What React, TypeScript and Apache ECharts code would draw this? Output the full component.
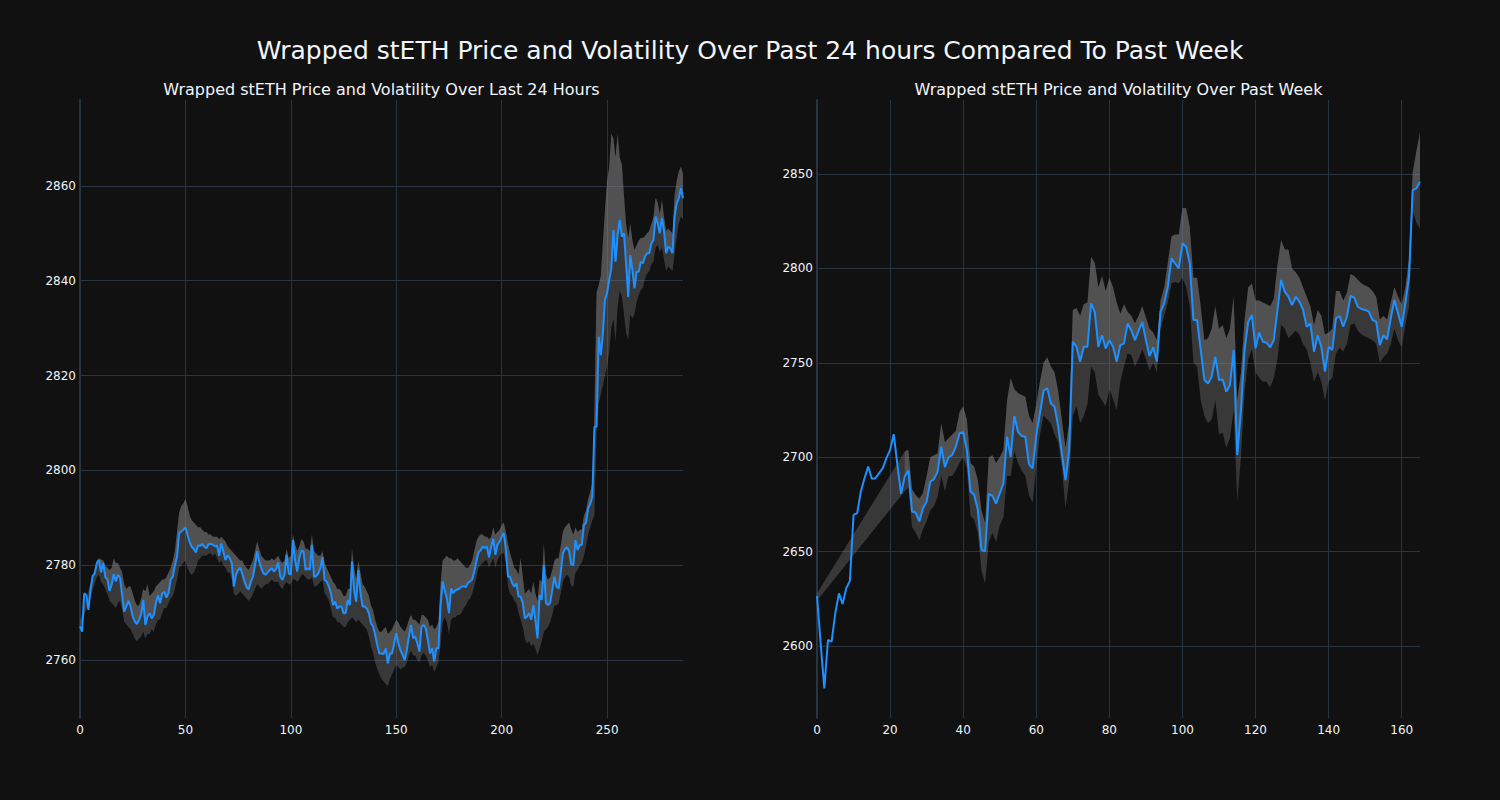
import React, { useEffect, useRef } from "react";
import * as echarts from "echarts";

// ---------- Data: last 24 hours (5-minute steps) ----------
const dayPrice: number[] = [
  2767.1, 2766.0, 2774.1, 2773.7, 2770.6, 2774.8, 2777.7, 2778.3, 2780.5, 2781.0,
  2778.5, 2780.5, 2777.5, 2777.0, 2774.6, 2775.9, 2778.1, 2776.6, 2778.0, 2777.3,
  2773.7, 2770.2, 2771.4, 2772.5, 2771.3, 2769.2, 2768.1, 2767.6, 2768.5, 2769.7,
  2772.7, 2767.4, 2769.2, 2769.9, 2768.8, 2769.5, 2772.0, 2773.7, 2772.0, 2774.1,
  2774.4, 2773.2, 2774.2, 2777.0, 2777.6, 2779.9, 2781.8, 2786.8, 2787.1, 2787.5,
  2788.0, 2786.4, 2784.9, 2783.9, 2783.4, 2782.7, 2784.2, 2784.1, 2784.5, 2783.9,
  2783.6, 2784.5, 2784.5, 2784.4, 2784.0, 2784.2, 2782.0, 2784.6, 2782.9, 2781.1,
  2782.1, 2781.5, 2780.4, 2775.5, 2778.0, 2779.0, 2779.5, 2778.2, 2776.6, 2775.4,
  2774.9, 2776.5, 2777.5, 2780.0, 2782.9, 2780.8, 2779.4, 2778.3, 2778.0, 2778.5,
  2779.0, 2779.4, 2778.7, 2779.2, 2780.6, 2777.6, 2776.9, 2778.0, 2782.2, 2778.3,
  2778.0, 2785.3, 2781.1, 2778.7, 2781.5, 2783.1, 2782.9, 2779.0, 2779.4, 2779.0,
  2784.3, 2777.6, 2777.7, 2778.3, 2779.4, 2781.7, 2776.9, 2776.6, 2775.5, 2774.1,
  2771.6, 2772.3, 2770.9, 2771.3, 2771.3, 2769.9, 2769.9, 2772.7, 2771.6, 2780.8,
  2774.8, 2772.3, 2779.0, 2774.4, 2771.3, 2771.3, 2770.9, 2769.9, 2767.8, 2767.1,
  2765.3, 2763.2, 2761.4, 2761.4, 2761.3, 2762.5, 2759.3, 2761.4, 2761.4, 2763.5,
  2765.7, 2763.5, 2762.1, 2761.1, 2760.0, 2762.1, 2765.0, 2767.4, 2764.6, 2765.0,
  2763.5, 2761.8, 2767.1, 2767.4, 2766.7, 2764.2, 2761.4, 2762.5, 2759.7, 2762.5,
  2762.5, 2771.3, 2776.6, 2774.8, 2773.0, 2769.9, 2775.1, 2774.1, 2774.7, 2774.9,
  2775.1, 2775.5, 2775.6, 2775.4, 2776.3, 2776.6, 2777.0, 2778.7, 2780.8, 2782.7,
  2783.2, 2783.9, 2783.7, 2783.9, 2781.7, 2783.9, 2785.6, 2782.2, 2784.3, 2785.0,
  2786.0, 2786.8, 2783.2, 2777.6, 2777.6, 2776.2, 2775.5, 2776.2, 2773.4, 2773.4,
  2772.0, 2768.8, 2769.2, 2769.9, 2768.5, 2771.6, 2768.5, 2764.6, 2773.7, 2772.7,
  2780.1, 2772.0, 2771.6, 2772.1, 2774.8, 2777.6, 2775.5, 2775.1, 2778.3, 2782.5,
  2783.4, 2783.8, 2782.9, 2780.1, 2780.1, 2785.3, 2783.2, 2784.3, 2784.3, 2788.5,
  2789.0, 2792.0, 2793.0, 2794.5, 2809.2, 2809.2, 2828.2, 2824.3, 2828.9, 2836.0,
  2837.4, 2840.2, 2842.6, 2850.7, 2844.0, 2849.7, 2852.8, 2849.3, 2850.0, 2843.7,
  2836.6, 2845.4, 2842.3, 2838.4, 2841.9, 2841.9, 2844.0, 2843.7, 2845.1, 2845.8,
  2845.8, 2847.9, 2848.6, 2853.5, 2852.1, 2850.0, 2853.2, 2850.4, 2845.8, 2847.2,
  2846.8, 2845.8, 2853.5, 2856.3, 2857.4, 2859.5, 2857.4,
];

const dayUpper: (number | null)[] = [
  2768.2, null, null, null, null, null, null, null, 2781.0, 2781.5,
  2781.2, 2781.0, 2780.0, 2779.5, 2779.0, 2779.5, 2781.5, 2780.5, 2780.5, 2779.5,
  2778.5, 2776.0, 2775.0, 2775.5, 2775.5, 2774.0, 2772.5, 2771.5, 2771.5, 2773.0,
  2775.0, 2774.5, 2776.0, 2773.5, 2774.0, 2774.5, 2775.5, 2776.0, 2776.5, 2777.0,
  2777.0, 2777.5, 2778.5, 2779.5, 2781.0, 2783.0, 2787.0, 2791.0, 2792.5, 2793.0,
  2794.0, 2792.5, 2790.5, 2789.5, 2789.0, 2788.5, 2788.0, 2788.0, 2787.5, 2787.0,
  2787.0, 2786.5, 2786.5, 2786.0, 2786.0, 2786.0, 2785.5, 2786.0, 2785.5, 2785.0,
  2784.0, 2783.5, 2783.0, 2782.5, 2782.0, 2781.5, 2781.0, 2781.0, 2780.0, 2779.5,
  2779.0, 2780.0, 2781.0, 2783.0, 2785.0, 2783.5, 2782.0, 2781.5, 2781.0, 2781.0,
  2781.0, 2781.5, 2781.0, 2781.5, 2782.0, 2781.0, 2780.5, 2781.0, 2783.5, 2781.5,
  2782.0, 2786.5, 2784.5, 2783.0, 2784.0, 2785.5, 2785.0, 2783.5, 2783.5, 2783.0,
  2786.5, 2783.0, 2782.5, 2782.0, 2782.0, 2783.0, 2780.5, 2779.5, 2778.5, 2777.5,
  2776.5, 2776.0, 2775.0, 2775.0, 2774.5, 2773.5, 2773.5, 2775.0, 2775.0, 2783.5,
  2779.5, 2777.0, 2781.0, 2778.5, 2776.0, 2775.5, 2774.5, 2773.5, 2771.5, 2770.5,
  2768.5, 2767.0, 2766.0, 2766.0, 2766.5, 2767.0, 2765.5, 2766.0, 2766.5, 2767.5,
  2768.5, 2768.0, 2767.0, 2766.5, 2766.0, 2767.0, 2768.5, 2769.5, 2768.5, 2768.5,
  2768.0, 2767.5, 2769.5, 2769.5, 2769.0, 2768.5, 2767.0, 2767.5, 2766.5, 2767.0,
  2768.0, 2776.0, 2781.0, 2781.5, 2782.0, 2781.5, 2781.5, 2781.0, 2781.0, 2781.5,
  2781.0, 2780.5, 2780.0, 2779.5, 2779.5, 2780.0, 2781.0, 2783.0, 2785.0, 2786.0,
  2786.5, 2786.5, 2786.0, 2786.0, 2785.5, 2786.0, 2788.0, 2786.5, 2787.0, 2787.5,
  2788.5, 2789.0, 2787.0, 2784.5, 2782.5, 2781.0, 2779.5, 2779.0, 2778.0, 2781.5,
  2777.5, 2774.0, 2774.5, 2775.0, 2774.0, 2776.5, 2774.0, 2772.5, 2777.0, 2776.5,
  2784.5, 2778.0, 2777.0, 2777.5, 2779.0, 2781.0, 2781.5, 2781.5, 2784.0, 2787.0,
  2788.0, 2788.5, 2789.0, 2787.5, 2786.5, 2788.0, 2787.0, 2787.5, 2787.5, 2790.5,
  2791.5, 2794.0, 2795.5, 2797.5, 2813.0, 2837.5, 2839.0, 2841.0, 2848.0, 2855.0,
  2861.0, 2864.0, 2871.0, 2870.0, 2866.0, 2871.0, 2866.0, 2864.5, 2858.0, 2852.0,
  2849.0, 2852.0, 2848.5, 2846.5, 2847.5, 2848.5, 2849.0, 2849.0, 2849.5, 2850.0,
  2850.5, 2852.0, 2853.5, 2857.5, 2856.5, 2854.0, 2857.0, 2853.5, 2850.5, 2851.0,
  2850.5, 2850.0, 2858.0, 2861.0, 2863.0, 2864.0, 2862.5,
];

const dayLower: (number | null)[] = [
  2766.8, null, null, null, null, null, null, null, 2777.5, 2778.0,
  2776.5, 2776.0, 2775.0, 2774.0, 2772.5, 2772.0, 2771.5, 2771.0, 2772.0, 2772.5,
  2770.5, 2768.0, 2767.5, 2767.0, 2766.5, 2765.5, 2764.5, 2764.0, 2764.5, 2765.0,
  2766.0, 2764.5, 2765.5, 2765.5, 2766.5, 2766.0, 2767.5, 2768.5, 2768.5, 2770.0,
  2771.0, 2771.0, 2772.0, 2773.0, 2773.5, 2775.0, 2777.0, 2779.5, 2780.0, 2780.5,
  2781.0, 2779.5, 2778.5, 2778.0, 2778.5, 2779.5, 2781.0, 2781.5, 2782.0, 2782.0,
  2782.0, 2782.5, 2782.5, 2782.0, 2782.5, 2781.5, 2780.5, 2781.0, 2780.0, 2779.5,
  2778.5, 2778.5, 2777.0, 2774.0, 2773.5, 2774.0, 2774.5, 2774.0, 2773.5, 2773.0,
  2772.5, 2773.0, 2774.0, 2775.0, 2776.0, 2775.5, 2775.0, 2775.5, 2776.0, 2776.0,
  2776.5, 2777.0, 2776.5, 2776.5, 2776.5, 2775.5, 2775.0, 2776.0, 2776.5, 2776.0,
  2776.0, 2777.0, 2777.0, 2776.5, 2777.0, 2778.0, 2778.0, 2777.5, 2777.0, 2777.0,
  2777.5, 2775.5, 2775.5, 2776.0, 2776.5, 2777.0, 2774.0, 2773.5, 2772.5, 2771.0,
  2769.0, 2769.0, 2768.0, 2768.0, 2767.5, 2767.0, 2767.0, 2768.0, 2768.5, 2769.0,
  2768.5, 2768.0, 2768.5, 2768.0, 2767.5, 2767.0, 2766.5, 2765.0, 2763.0, 2761.5,
  2759.5, 2758.0, 2757.0, 2756.0, 2755.5, 2755.0, 2754.5, 2756.0, 2757.0, 2758.0,
  2759.0, 2758.5, 2758.0, 2758.5, 2758.5, 2759.5, 2761.0, 2762.0, 2761.0, 2761.0,
  2760.0, 2759.5, 2761.0, 2761.5, 2761.0, 2760.0, 2758.5, 2759.0, 2757.5, 2758.5,
  2759.5, 2763.0, 2768.0, 2769.0, 2768.0, 2765.5, 2768.5, 2769.0, 2769.0, 2769.5,
  2769.5, 2770.0, 2771.0, 2771.5, 2772.5, 2773.0, 2774.0, 2775.5, 2777.5, 2779.5,
  2780.0, 2780.5, 2781.0, 2781.0, 2779.5, 2780.5, 2781.5, 2779.5, 2781.0, 2782.0,
  2782.5, 2782.5, 2780.5, 2775.5, 2774.0, 2773.5, 2772.5, 2772.0, 2770.0, 2768.5,
  2767.0, 2764.5, 2763.5, 2764.0, 2763.0, 2763.5, 2762.5, 2761.0, 2762.5, 2764.0,
  2766.0, 2766.5, 2767.0, 2768.0, 2769.5, 2771.5, 2771.5, 2772.0, 2774.0, 2776.5,
  2777.5, 2778.0, 2777.5, 2775.5, 2775.5, 2778.5, 2779.0, 2780.0, 2780.5, 2782.0,
  2784.0, 2786.5, 2788.0, 2789.5, 2790.5, 2808.0, 2814.0, 2816.0, 2818.0, 2820.0,
  2822.0, 2825.0, 2830.0, 2832.0, 2827.0, 2834.5, 2838.0, 2836.5, 2833.0, 2829.0,
  2827.5, 2833.0, 2832.0, 2833.0, 2835.5, 2837.0, 2838.0, 2838.5, 2840.5, 2841.5,
  2842.0, 2843.5, 2844.0, 2847.0, 2847.5, 2846.0, 2847.0, 2844.5, 2842.0, 2843.0,
  2842.5, 2842.0, 2845.5, 2849.0, 2852.0, 2853.5, 2853.0,
];

// ---------- Data: past week (hourly) ----------
const weekPrice: number[] = [
  2626.5, 2601.4, 2577.6, 2603.2, 2602.3, 2617.3, 2627.9, 2622.3, 2630.6, 2634.5,
  2669.5, 2670.4, 2681.9, 2688.9, 2695.1, 2688.6, 2688.9, 2691.6, 2694.2, 2699.5,
  2703.9, 2712.2, 2696.0, 2680.6, 2689.8, 2693.0, 2671.3, 2670.7, 2666.0, 2673.0,
  2676.5, 2687.1, 2688.4, 2692.4, 2705.6, 2694.7, 2700.0, 2701.2, 2705.6, 2712.7,
  2713.2, 2703.9, 2681.9, 2680.1, 2672.2, 2651.0, 2650.1, 2680.6, 2679.6, 2675.4,
  2680.9, 2686.2, 2710.9, 2700.2, 2721.8, 2713.5, 2711.2, 2710.9, 2696.4, 2694.1,
  2711.7, 2723.2, 2735.2, 2736.6, 2728.5, 2726.8, 2716.2, 2702.0, 2687.9, 2703.8,
  2761.2, 2758.5, 2750.6, 2758.5, 2758.5, 2781.5, 2777.0, 2758.5, 2764.6, 2757.6,
  2762.0, 2758.5, 2750.6, 2759.4, 2760.2, 2770.8, 2767.3, 2762.0, 2766.9, 2771.7,
  2762.0, 2753.6, 2758.2, 2750.6, 2777.0, 2781.5, 2790.3, 2805.3, 2802.6, 2800.0,
  2813.3, 2811.5, 2802.7, 2772.7, 2772.7, 2756.8, 2740.9, 2739.1, 2742.7, 2753.2,
  2740.9, 2741.2, 2734.7, 2738.2, 2756.8, 2701.2, 2725.0, 2756.8, 2771.8, 2775.3,
  2757.7, 2766.0, 2761.2, 2760.7, 2758.2, 2762.1, 2778.0, 2793.9, 2787.7, 2785.0,
  2780.6, 2785.0, 2782.4, 2778.0, 2769.1, 2770.9, 2755.9, 2764.6, 2758.5, 2745.3,
  2758.5, 2756.8, 2773.6, 2774.8, 2769.1, 2774.4, 2785.4, 2784.5, 2779.7, 2778.5,
  2778.0, 2777.1, 2772.7, 2771.8, 2759.4, 2764.7, 2762.4, 2773.6, 2783.3, 2776.2,
  2769.1, 2781.5, 2795.6, 2841.5, 2842.4, 2845.9,
];

const weekUpper: (number | null)[] = [
  2628, null, null, null, null, null, null, null, null, null,
  null, null, null, null, null, null, null, null, null, null,
  null, null, null, null, 2703, 2704, 2683, 2680, 2678, 2681,
  2690, 2700, 2701, 2702, 2718, 2708, 2710, 2712, 2714, 2724,
  2727, 2720, 2697, 2695, 2688, 2672, 2665, 2700, 2701, 2697,
  2700, 2704, 2730, 2742, 2736, 2734, 2733, 2732, 2722, 2718,
  2728, 2740, 2750, 2753, 2748, 2745, 2735, 2720, 2705, 2718,
  2778, 2779, 2775, 2781, 2782, 2806, 2803, 2790, 2796, 2788,
  2795, 2790, 2782, 2776, 2781, 2777, 2775, 2771, 2775, 2780,
  2774, 2768, 2766, 2762, 2783, 2790, 2803, 2817, 2818, 2818,
  2832, 2832, 2822, 2795, 2795, 2780, 2762, 2763, 2768, 2780,
  2768, 2770, 2763, 2768, 2785, 2730, 2745, 2773, 2790, 2792,
  2783, 2783, 2782, 2781, 2780, 2784, 2802, 2815, 2810, 2810,
  2800, 2798, 2795, 2790, 2785, 2780, 2770, 2778, 2775, 2765,
  2766, 2768, 2788, 2788, 2783, 2787, 2797, 2796, 2794, 2792,
  2791, 2790, 2788, 2785, 2773, 2775, 2773, 2782, 2790, 2785,
  2781, 2790, 2805, 2851, 2862, 2872,
];

const weekLower: (number | null)[] = [
  2624, null, null, null, null, null, null, null, null, null,
  null, null, null, null, null, null, null, null, null, null,
  null, null, null, null, 2682, 2684, 2663, 2660, 2656, 2662,
  2666, 2672, 2674, 2679, 2690, 2682, 2690, 2690, 2693, 2697,
  2700, 2694, 2669, 2667, 2660, 2640, 2633, 2655, 2660, 2655,
  2664, 2668, 2690, 2690, 2703, 2697, 2693, 2690, 2680, 2676,
  2695, 2712, 2722, 2720, 2718, 2712, 2708, 2695, 2673, 2688,
  2722, 2727, 2718, 2722, 2728, 2748, 2745, 2733, 2730, 2727,
  2736, 2731, 2725, 2740, 2748, 2755, 2754, 2748, 2752, 2757,
  2752, 2746, 2750, 2745, 2768, 2775, 2782, 2792, 2793, 2792,
  2795, 2790, 2780, 2750, 2748, 2730, 2722, 2718, 2720, 2730,
  2712, 2713, 2705, 2710, 2725, 2677, 2700, 2735, 2752, 2757,
  2745, 2742, 2740, 2740, 2737, 2742, 2752, 2770, 2768, 2763,
  2765, 2767, 2765, 2760, 2757, 2750, 2740, 2745, 2740, 2730,
  2740, 2742, 2755, 2758, 2756, 2760, 2770, 2771, 2767, 2765,
  2764, 2763, 2762, 2760, 2750, 2753, 2755, 2760, 2768, 2762,
  2758, 2770, 2780, 2831, 2824, 2821,
];

// ---------- Tick labels ----------
const dayXTicks = [0, 50, 100, 150, 200, 250];
const dayYTicks = [2760, 2780, 2800, 2820, 2840, 2860];
const weekXTicks = [0, 20, 40, 60, 80, 100, 120, 140, 160];
const weekYTicks = [2600, 2650, 2700, 2750, 2800, 2850];

const mainTitle = "Wrapped stETH Price and Volatility Over Past 24 hours Compared To Past Week";
const dayTitle = "Wrapped stETH Price and Volatility Over Last 24 Hours";
const weekTitle = "Wrapped stETH Price and Volatility Over Past Week";

const FONT = "DejaVu Sans";
const TEXT = "#f2f5fa";
const GRID = "#283442";
const BG = "#111111";
const LINE = "#1e90ff";
const FILL = "rgba(128,128,128,0.35)";

function bandSeries(idx: number, price: number[], upper: (number | null)[], lower: (number | null)[]) {
  return {
    type: "custom",
    xAxisIndex: idx,
    yAxisIndex: idx,
    silent: true,
    clip: true,
    z: 1,
    data: [[0, price[0]]],
    renderItem: (_params: any, api: any) => {
      const up: number[][] = [];
      const lo: number[][] = [];
      for (let i = 0; i < price.length; i++) {
        if (upper[i] != null) up.push(api.coord([i, upper[i]]));
        if (lower[i] != null) lo.push(api.coord([i, lower[i]]));
      }
      const bandPts = up.concat(lo.slice().reverse());
      let start = 0;
      for (let i = 1; i < upper.length; i++) {
        if (upper[i] != null && upper[i - 1] == null) start = i;
      }
      const fwd: number[][] = [];
      const back: number[][] = [];
      for (let i = start; i < price.length; i++) {
        fwd.push(api.coord([i, price[i]]));
        if (upper[i] != null) back.push(api.coord([i, upper[i]]));
      }
      const lightPts = fwd.concat(back.reverse());
      return {
        type: "group",
        children: [
          { type: "polygon", shape: { points: bandPts }, style: { fill: FILL } },
          { type: "polygon", shape: { points: lightPts }, style: { fill: FILL } },
        ],
      };
    },
  };
}

function lineSeries(idx: number, price: number[]) {
  return {
    type: "line",
    xAxisIndex: idx,
    yAxisIndex: idx,
    z: 3,
    showSymbol: false,
    symbol: "none",
    data: price.map((v, i) => [i, v]),
    lineStyle: { color: LINE, width: 2 },
    itemStyle: { color: LINE },
  };
}

const plain = (v: number) => String(v);

function xAxis(idx: number, max: number, ticks: number[]) {
  return {
    type: "value",
    gridIndex: idx,
    min: 0,
    max,
    axisLine: { show: false },
    axisTick: { show: false, customValues: ticks },
    axisLabel: { customValues: ticks, formatter: plain, color: TEXT, fontSize: 12, fontFamily: FONT, margin: 6 },
    splitLine: { show: true, lineStyle: { color: GRID, width: 1 } },
  };
}

function yAxis(idx: number, min: number, max: number, ticks: number[]) {
  return {
    type: "value",
    gridIndex: idx,
    min,
    max,
    axisLine: { show: true, onZero: false, lineStyle: { color: GRID, width: 2 } },
    axisTick: { show: false, customValues: ticks },
    axisLabel: { customValues: ticks, formatter: plain, color: TEXT, fontSize: 12, fontFamily: FONT, margin: 4 },
    splitLine: { show: true, lineStyle: { color: GRID, width: 1 } },
  };
}

function titleText(text: string, x: number, y: number, size: number) {
  return {
    type: "text",
    x,
    y,
    style: {
      text,
      fill: TEXT,
      fontSize: size,
      fontFamily: FONT,
      align: "center",
      verticalAlign: "middle",
      textAlign: "center",
      textVerticalAlign: "middle",
    },
  };
}

export default function App() {
  const ref = useRef<HTMLDivElement>(null);
  useEffect(() => {
    if (!ref.current) return;
    const chart = echarts.init(ref.current, undefined, { renderer: "svg" });
    chart.setOption({
      animation: false,
      backgroundColor: BG,
      grid: [
        { left: 80, top: 100, width: 603, height: 618, outerBoundsMode: "none" },
        { left: 817, top: 100, width: 603, height: 618, outerBoundsMode: "none" },
      ],
      xAxis: [xAxis(0, 286, dayXTicks), xAxis(1, 165, weekXTicks)],
      yAxis: [yAxis(0, 2747.8, 2878.1, dayYTicks), yAxis(1, 2561.9, 2889.2, weekYTicks)],
      series: [
        bandSeries(0, dayPrice, dayUpper, dayLower),
        lineSeries(0, dayPrice),
        bandSeries(1, weekPrice, weekUpper, weekLower),
        lineSeries(1, weekPrice),
      ],
      graphic: [
        titleText(mainTitle, 750, 50, 25),
        titleText(dayTitle, 381.5, 89, 16),
        titleText(weekTitle, 1118.5, 89, 16),
      ],
    });
    return () => chart.dispose();
  }, []);
  return (
    <div
      ref={ref}
      style={{ position: "fixed", left: 0, top: 0, width: 1500, height: 800, background: BG }}
    />
  );
}
